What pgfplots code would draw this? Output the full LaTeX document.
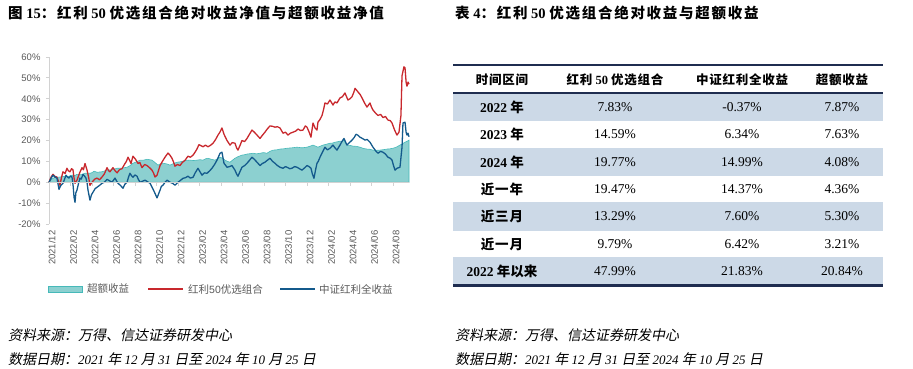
\documentclass[border=0pt]{standalone}
\usepackage{pgfplots}
\pgfplotsset{compat=1.18}
\usepackage{pgfplotstable}
\usepackage{fontspec}
\setmainfont{Liberation Serif}
\newfontfamily\arial{Liberation Sans}
\newfontfamily\cjk{Noto Sans CJK SC}
\newfontfamily\cjksp{Noto Sans CJK SC}[LetterSpace=12]
\newfontfamily\cjkh{Noto Sans CJK SC}[LetterSpace=6]
\newfontfamily\cjki{Noto Sans CJK SC}[FakeSlant=0.2]
\definecolor{cred}{RGB}{200,40,45}
\definecolor{cblue}{RGB}{20,90,140}
\definecolor{tealfill}{RGB}{140,208,208}
\definecolor{tealedge}{RGB}{70,185,185}
\definecolor{axgray}{RGB}{210,210,210}
\definecolor{lblgray}{RGB}{89,89,89}
\definecolor{navy}{RGB}{31,45,80}
\definecolor{rowblue}{RGB}{204,217,231}

\pgfplotstableread{
m y
0 0
0.20 2.5
0.37 3.8
0.55 2.8
0.74 2.5
0.88 0.5
1.02 -1.5
1.15 2.0
1.30 5
1.50 4.2
1.67 6.7
1.80 5.5
1.95 5
2.10 6.5
2.23 6
2.33 2
2.42 -0.5
2.60 1
2.85 4.5
3.07 7
3.20 6
3.35 9
3.53 6
3.70 2
3.81 -1.5
4.00 0
4.25 1.5
4.47 2
4.70 1.2
4.93 2.5
5.15 4
5.40 7
5.55 5.5
5.67 5
5.95 7
6.15 5.5
6.33 4.5
6.55 6
6.79 6.5
7.07 9
7.20 10
7.35 12
7.50 10.5
7.63 9
7.81 12.5
8.05 11
8.28 9
8.45 9.5
8.65 7
8.90 8.5
9.12 8
9.35 7
9.58 5.8
9.72 4.5
9.86 2.5
10.05 3.4
10.33 8
10.55 10
10.79 12
11.07 14
11.25 13
11.44 11.5
11.60 9.5
11.72 7.7
11.95 8.5
12.19 8
12.40 9.5
12.65 10.5
12.93 12.5
13.15 12
13.40 13
13.60 14.5
13.77 16
13.95 18
14.15 17.5
14.33 17
14.55 17.8
14.79 17
15.05 17.8
15.26 18.7
15.50 20.5
15.72 22.6
15.90 24
16.09 26
16.28 23
16.56 20
16.84 17.8
17.05 19
17.30 18.7
17.45 16.5
17.58 15.4
17.80 18
17.95 20
18.20 19.5
18.42 21
18.65 23
18.88 25
19.10 24
19.35 22.6
19.63 21
19.85 22.5
20.09 24
20.30 25.5
20.56 27
20.80 26.8
21.02 26.4
21.25 26.6
21.49 26
21.77 23.5
22.00 24
22.23 22.6
22.45 23.5
22.70 24
22.95 24.5
23.16 25.5
23.40 24.8
23.63 25
23.85 27
24.00 26.4
24.20 24
24.37 21.6
24.56 28.4
24.75 26
24.93 25
25.02 28.8
25.20 30
25.40 32
25.55 35
25.67 38
25.90 37.5
26.14 39.4
26.42 37
26.60 38.5
26.79 38
27.07 40.4
27.30 41
27.53 42.8
27.81 39.4
28.00 40
28.19 41
28.35 43
28.47 45
28.74 43.3
28.95 42
29.12 40.4
29.35 38
29.58 36
29.86 38
30.00 36
30.14 34.6
30.40 33
30.60 32
30.85 32.5
31.07 31
31.30 31.5
31.53 29.8
31.75 29.5
31.91 28.4
32.15 25
32.37 22.6
32.56 24
32.74 32
32.84 51
33.02 55.3
33.12 54.8
33.22 48
33.30 46
33.40 48
33.49 47
}\redtab

\pgfplotstableread{
m y
0 0
0.20 2
0.37 3.4
0.55 2.5
0.74 2
0.93 -3.4
1.10 -1.5
1.30 -0.5
1.45 1.5
1.58 3.4
1.72 2.5
1.86 2
2.00 3
2.14 2.5
2.25 -2
2.33 -7.2
2.42 -9.6
2.50 -5
2.60 -3.8
2.75 -0.5
2.88 2
3.00 1.5
3.16 3.8
3.30 3
3.44 2
3.55 -0.5
3.63 -3.8
3.81 -8.6
3.95 -6
4.09 -4.8
4.30 -3
4.47 -2.4
4.70 -1.5
4.93 -0.5
5.15 0
5.40 1.4
5.60 0.8
5.86 0
6.14 2
6.30 0.5
6.42 -0.5
6.65 -1.5
6.88 -2.9
7.05 -1
7.26 0
7.40 2.5
7.53 4.3
7.70 3
7.81 2.4
8.00 3.5
8.19 2.9
8.30 1.5
8.47 0
8.70 0.5
8.93 1
9.15 0.3
9.40 -0.5
9.65 -3
9.86 -5.3
10.05 -7.5
10.20 -5.5
10.33 -3.8
10.45 -2
10.60 -1.4
10.80 0
10.98 1
11.26 0
11.50 -0.5
11.72 -1.4
12.00 0
12.25 1
12.47 1.9
12.70 2.2
12.93 2.9
13.15 2
13.40 2.4
13.60 4.5
13.86 6.7
14.05 5
14.23 3.4
14.45 4.5
14.70 4.3
14.95 5.5
15.16 6.7
15.40 8.5
15.63 10.6
15.91 13.9
16.09 14.4
16.28 9.1
16.56 7.2
16.80 7.5
17.02 8
17.30 5.8
17.45 4
17.58 2.9
17.80 5.5
17.95 7.2
18.20 8
18.42 9.1
18.65 10.5
18.88 12
19.10 11
19.35 9.6
19.63 8
19.85 9
20.09 9.6
20.30 10.5
20.56 11.5
20.80 10
21.02 9.1
21.25 8
21.49 7.2
21.77 6.7
22.00 7.5
22.14 7.2
22.40 6.5
22.60 6.7
22.85 7.5
23.07 7.2
23.30 6.5
23.53 5.8
23.80 7
24.00 8
24.20 7.5
24.37 6.7
24.50 4
24.65 1.9
24.80 6
24.93 9.1
25.05 10
25.21 12
25.45 14.5
25.67 16.8
25.90 15.5
26.14 16.3
26.42 17.8
26.60 16.5
26.79 15.4
27.07 17.8
27.25 19.5
27.44 21
27.72 17.8
27.95 19
28.19 20.2
28.40 21.5
28.56 23
28.75 22.5
28.93 21.6
29.15 21
29.40 20.2
29.60 20.5
29.86 19.2
30.00 18
30.14 16.8
30.40 15
30.60 13.9
30.85 14.8
31.07 14.4
31.30 13.5
31.53 12
31.75 11.5
31.91 10.6
32.05 8
32.19 5.8
32.37 6.7
32.65 7.2
32.84 16.8
32.93 28.4
33.12 28.8
33.22 24
33.30 22.6
33.40 23.5
33.49 21.8
}\bluetab

\pgfplotstableread{
m y
0 0
0.25 1.5
0.56 2.4
1.00 2.5
1.49 2.9
1.80 2.7
2.14 3.4
2.40 3.2
2.60 3.8
3.00 3.6
3.35 4.3
3.81 4.3
4.00 4.6
4.19 5.3
4.47 4.8
4.90 5
5.40 5.8
5.85 6
6.33 6.7
6.80 6.8
7.26 7.2
7.55 8
7.81 9.1
8.15 9.8
8.47 10.6
8.80 10.6
9.12 11
9.35 10.8
9.58 10.6
9.85 9.5
10.14 8.2
10.35 8.8
10.60 9.1
10.95 8.8
11.26 8.2
11.60 9
11.91 9.6
12.20 9.8
12.47 10.1
12.80 10.5
13.12 10.6
13.45 10.4
13.77 10.6
14.05 10.8
14.33 10.6
14.55 11.2
14.79 11.5
15.10 11
15.44 10.6
15.70 11.3
15.91 12
16.15 11.5
16.37 10.6
16.60 10
16.84 9.6
17.05 10.5
17.30 11.5
17.60 12.3
17.95 13
18.20 13.2
18.42 13.5
18.70 13.7
18.98 13.9
19.30 13.6
19.63 13.9
19.95 14.2
20.28 13.9
20.55 14.8
20.84 15.4
21.15 15.5
21.49 15.9
21.80 16
22.14 16.3
22.60 16.5
23.07 16.8
23.55 16.5
24.00 16.8
24.30 17.3
24.56 17.8
25.02 16.8
25.25 17.3
25.49 17.8
25.80 18.2
26.14 18.7
26.40 18.8
26.60 19.2
26.85 19.4
27.07 19.7
27.25 19.6
27.44 20.2
27.60 18.5
27.81 17.8
28.05 17.6
28.28 17.3
28.60 17.2
28.93 16.8
29.25 16.2
29.58 15.9
29.85 15.8
30.14 15.4
30.45 15.3
30.79 15.4
31.10 15.6
31.44 15.9
31.70 16
32.00 16.3
32.30 16.8
32.65 17.8
32.90 18.5
33.12 19.2
33.30 19.6
33.49 20.2
}\exctab

\begin{document}
\begin{tikzpicture}[x=1pt,y=1pt]
\path[use as bounding box] (0,0) rectangle (913,-368);

% titles
\node[anchor=west,inner sep=0,font=\fontsize{14.5}{16}\selectfont\bfseries] at (8,-13)
  {{\cjksp 图} 15{\cjksp ：红利} 50 {\cjksp 优选组合绝对收益净值与超额收益净值}};
\node[anchor=west,inner sep=0,font=\fontsize{14.5}{16}\selectfont\bfseries] at (455,-13)
  {{\cjksp 表} 4{\cjksp ：红利} 50 {\cjksp 优选组合绝对收益与超额收益}};

\begin{axis}[
  at={(49pt,-224pt)}, anchor=south west,
  scale only axis, width=360pt, height=167pt,
  xmin=0, xmax=33.49, ymin=-20, ymax=60,
  axis x line*=bottom, axis y line*=left,
  x axis line style={draw=none},
  y axis line style={draw=axgray, line width=0.8pt},
  ytick={-20,-10,...,60},
  yticklabel={\pgfmathprintnumber{\tick}\%},
  xtick={0,2,...,32},
  xticklabels={2021/12,2022/02,2022/04,2022/06,2022/08,2022/10,2022/12,2023/02,2023/04,2023/06,2023/08,2023/10,2023/12,2024/02,2024/04,2024/06,2024/08},
  xtick style={draw=none},
  ytick style={draw=axgray, line width=0.8pt},
  tick align=outside, major tick length=3pt,
  /pgf/number format/assume math mode=true,
  tick label style={font=\arial\fontsize{9.5}{10}\selectfont, text=lblgray},
  xticklabel style={rotate=90, anchor=east, yshift=-3pt},
  yticklabel style={xshift=-2pt},
  clip=false,
]
\addplot[fill=tealfill, draw=tealedge, line width=0.6pt] table[x=m,y=y] {\exctab} \closedcycle;
\addplot[cred, line width=1.3pt, line join=round] table[x=m,y=y] {\redtab};
\addplot[cblue, line width=1.3pt, line join=round] table[x=m,y=y] {\bluetab};
\draw[axgray, line width=0.8pt] (axis cs:0,0) -- (axis cs:33.49,0);
\pgfplotsinvokeforeach{0,2,4,6,8,10,12,14,16,18,20,22,24,26,28,30,32}{
  \draw[axgray, line width=0.8pt] (axis cs:#1,0) -- (axis cs:#1,-2);
}
\end{axis}

% legend
\fill[tealfill, draw=tealedge, line width=0.6pt] (48,-286) rectangle (82,-292);
\node[anchor=west,inner sep=0,font=\cjk\fontsize{10.5}{12}\selectfont,text=lblgray] at (87,-289) {超额收益};
\draw[cred, line width=1.4pt] (148,-289) -- (183,-289);
\node[anchor=west,inner sep=0,font=\fontsize{10.5}{12}\selectfont,text=lblgray] at (188,-289) {{\cjk 红利}{\arial 50}{\cjk 优选组合}};
\draw[cblue, line width=1.4pt] (280,-289) -- (315,-289);
\node[anchor=west,inner sep=0,font=\cjk\fontsize{10.5}{12}\selectfont,text=lblgray] at (319,-289) {中证红利全收益};

% table shading
\fill[rowblue] (453,-93) rectangle (883,-121);
\fill[rowblue] (453,-148) rectangle (883,-176);
\fill[rowblue] (453,-202) rectangle (883,-231);
\fill[rowblue] (453,-257) rectangle (883,-285);
\draw[navy, line width=2pt] (453,-65) -- (883,-65);
\draw[navy, line width=1.6pt] (453,-93) -- (883,-93);
\draw[navy, line width=2.4pt] (453,-285.5) -- (883,-285.5);

% header
\begin{scope}[every node/.style={inner sep=0, font=\fontsize{12.5}{14}\selectfont\bfseries}]
\node at (502,-80) {\cjkh 时间区间};
\node at (615,-80) {{\cjkh 红利} 50 {\cjkh 优选组合}};
\node at (742,-80) {\cjkh 中证红利全收益};
\node at (842,-80) {\cjkh 超额收益};
\end{scope}

% row labels
\begin{scope}[every node/.style={inner sep=0, font=\fontsize{13.5}{15}\selectfont\bfseries}]
\node at (502,-107) {2022 {\cjk 年}};
\node at (502,-134.5) {2023 {\cjk 年}};
\node at (502,-162) {2024 {\cjk 年}};
\node at (502,-189) {\cjkh 近一年};
\node at (502,-216.5) {\cjkh 近三月};
\node at (502,-244) {\cjkh 近一月};
\node at (502,-271) {2022 {\cjk 年以来}};
\end{scope}

% values
\begin{scope}[every node/.style={inner sep=0, font=\fontsize{13.5}{15}\selectfont}]
\node at (615,-107) {7.83\%};   \node at (742,-107) {-0.37\%};  \node at (842,-107) {7.87\%};
\node at (615,-134.5) {14.59\%};\node at (742,-134.5) {6.34\%}; \node at (842,-134.5) {7.63\%};
\node at (615,-162) {19.77\%};  \node at (742,-162) {14.99\%};  \node at (842,-162) {4.08\%};
\node at (615,-189) {19.47\%};  \node at (742,-189) {14.37\%};  \node at (842,-189) {4.36\%};
\node at (615,-216.5) {13.29\%};\node at (742,-216.5) {7.60\%}; \node at (842,-216.5) {5.30\%};
\node at (615,-244) {9.79\%};   \node at (742,-244) {6.42\%};   \node at (842,-244) {3.21\%};
\node at (615,-271) {47.99\%};  \node at (742,-271) {21.83\%};  \node at (842,-271) {20.84\%};
\end{scope}

% footers
\begin{scope}[every node/.style={anchor=west, inner sep=0, font=\fontsize{13}{15}\selectfont\itshape}]
\node at (8,-335) {\cjki\fontsize{14}{15}\selectfont 资料来源：万得、信达证券研发中心};
\node at (8,-359) {{\cjki\fontsize{14}{15}\selectfont 数据日期：}2021 {\cjki\fontsize{14}{15}\selectfont 年} 12 {\cjki\fontsize{14}{15}\selectfont 月} 31 {\cjki\fontsize{14}{15}\selectfont 日至} 2024 {\cjki\fontsize{14}{15}\selectfont 年} 10 {\cjki\fontsize{14}{15}\selectfont 月} 25 {\cjki\fontsize{14}{15}\selectfont 日}};
\node at (455,-335) {\cjki\fontsize{14}{15}\selectfont 资料来源：万得、信达证券研发中心};
\node at (455,-359) {{\cjki\fontsize{14}{15}\selectfont 数据日期：}2021 {\cjki\fontsize{14}{15}\selectfont 年} 12 {\cjki\fontsize{14}{15}\selectfont 月} 31 {\cjki\fontsize{14}{15}\selectfont 日至} 2024 {\cjki\fontsize{14}{15}\selectfont 年} 10 {\cjki\fontsize{14}{15}\selectfont 月} 25 {\cjki\fontsize{14}{15}\selectfont 日}};
\end{scope}
\end{tikzpicture}
\end{document}
